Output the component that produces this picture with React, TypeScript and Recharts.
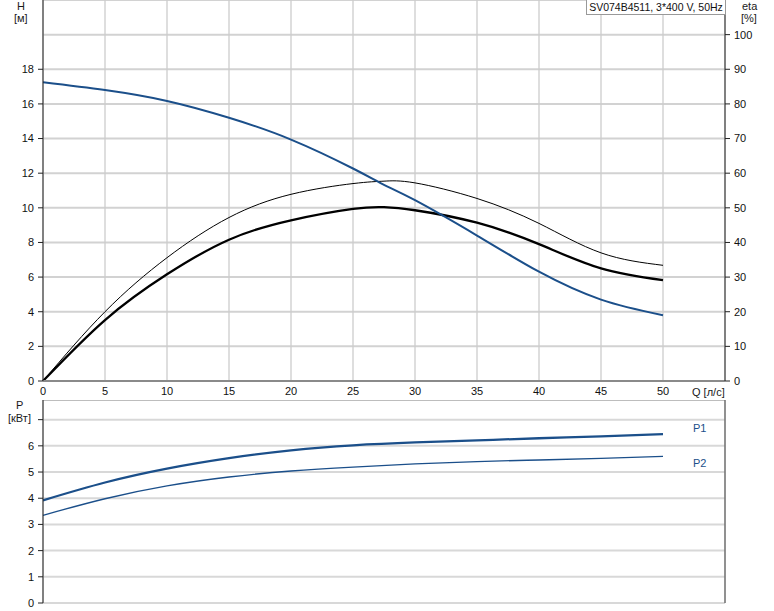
import React from 'react';
import { LineChart, Line, XAxis, YAxis, CartesianGrid, ReferenceLine } from 'recharts';

// Top chart (Q in l/s)
const qTop = [0, 5, 10, 15, 20, 25, 27.5, 30, 35, 40, 45, 50];
const headH = [17.25, 16.8, 16.17, 15.2, 13.94, 12.27, 11.33, 10.44, 8.4, 6.31, 4.7, 3.8];
const etaThin = [0, 20, 35.6, 47.2, 53.9, 57.0, 57.7, 57.2, 52.7, 45.5, 37.0, 33.4];
const etaThick = [0, 17.6, 30.8, 40.8, 46.4, 49.7, 50.2, 49.3, 45.7, 39.5, 32.5, 29.1];

// Bottom chart (power)
const qBottom = [0, 5, 10, 15, 20, 25, 30, 35, 40, 45, 50];
const powerP1 = [3.92, 4.6, 5.13, 5.53, 5.83, 6.02, 6.13, 6.21, 6.29, 6.36, 6.45];
const powerP2 = [3.35, 3.98, 4.47, 4.81, 5.04, 5.19, 5.31, 5.4, 5.46, 5.52, 5.6];

const qTicks = [0, 5, 10, 15, 20, 25, 30, 35, 40, 45, 50, 55];
const hTicks = [0, 2, 4, 6, 8, 10, 12, 14, 16, 18];
const etaTicks = [0, 10, 20, 30, 40, 50, 60, 70, 80, 90, 100];
const pTicks = [0, 1, 2, 3, 4, 5, 6, 7];

const titleText = 'SV074B4511, 3*400 V, 50Hz';

const topData = qTop.map((q, i) => ({ q, h: headH[i], etaThin: etaThin[i], etaThick: etaThick[i] }));
const botData = qBottom.map((q, i) => ({ q, p1: powerP1[i], p2: powerP2[i] }));

const BLUE = '#1b4f8a';
const tickStyle = { fontSize: 11, fill: '#111' };

const txt = (left: number, top: number, s: string, extra: React.CSSProperties = {}) => (
  <div style={{ position: 'absolute', left, top, fontSize: 11, lineHeight: '12px', color: '#1a1a1a', whiteSpace: 'nowrap', ...extra }}>{s}</div>
);

export default function App() {
  return (
    <div style={{ position: 'absolute', left: 0, top: 0, width: 774, height: 611, background: '#fff', fontFamily: '"Liberation Sans", Arial, sans-serif' }}>
      <div style={{ position: 'absolute', left: 0, top: 0 }}>
        <LineChart width={774} height={400} data={topData} margin={{ top: 0, right: 0, bottom: 0, left: 0 }}>
          <CartesianGrid yAxisId="eta" vertical={false} stroke="#d2d2d2" strokeWidth={2} />
          <CartesianGrid yAxisId="eta" horizontal={false} stroke="#cccccc" strokeWidth={1.3} />
          <XAxis dataKey="q" type="number" domain={[0, 55]} ticks={qTicks} interval={0}
            tickFormatter={(v: number) => (v === 55 ? '' : String(v))}
            tickLine={false} axisLine={{ stroke: '#8a8a8a', strokeWidth: 2 }} height={19}
            tickSize={4} tickMargin={2} tick={tickStyle} />
          <YAxis yAxisId="h" domain={[0, 22]} ticks={hTicks} interval={0} width={43}
            axisLine={{ stroke: '#222' }} tickLine={{ stroke: '#222' }} tickSize={5} tickMargin={4} tick={tickStyle} />
          <YAxis yAxisId="eta" orientation="right" domain={[0, 110]} ticks={etaTicks} interval={0} width={49}
            axisLine={{ stroke: '#222' }} tickLine={{ stroke: '#222' }} tickSize={5} tickMargin={4} tick={tickStyle} />
          <Line yAxisId="eta" dataKey="etaThin" type="natural" stroke="#000" strokeWidth={1} dot={false} isAnimationActive={false} />
          <Line yAxisId="eta" dataKey="etaThick" type="natural" stroke="#000" strokeWidth={2.3} dot={false} isAnimationActive={false} />
          <Line yAxisId="h" dataKey="h" type="natural" stroke={BLUE} strokeWidth={2} dot={false} isAnimationActive={false} />
        </LineChart>
      </div>
      <div style={{ position: 'absolute', left: 0, top: 400 }}>
        <LineChart width={774} height={211} data={botData} margin={{ top: 0, right: 0, bottom: 8, left: 0 }}>
          <CartesianGrid vertical={false} stroke="#d8d8d8" strokeWidth={2} />
          <CartesianGrid horizontal={false} stroke="#cccccc" strokeWidth={1.3} />
          <XAxis dataKey="q" type="number" domain={[0, 55]} ticks={qTicks} interval={0} height={0}
            tick={false} tickLine={false} axisLine={{ stroke: '#b0b0b0', strokeWidth: 2 }} />
          <YAxis domain={[0, 7.75]} ticks={pTicks} interval={0} width={43} allowDataOverflow
            tickFormatter={(v: number) => (v === 7 ? '' : String(v))}
            axisLine={{ stroke: '#222' }} tickLine={{ stroke: '#222' }} tickSize={5} tickMargin={4} tick={tickStyle} />
          <YAxis yAxisId="r" orientation="right" domain={[0, 1]} width={49} tick={false} tickLine={false}
            axisLine={{ stroke: '#444' }} />
          <ReferenceLine y={7.75} stroke="#bdbdbd" strokeWidth={2} />
          <Line dataKey="p1" type="natural" stroke={BLUE} strokeWidth={2.3} dot={false} isAnimationActive={false} />
          <Line dataKey="p2" type="natural" stroke={BLUE} strokeWidth={1.3} dot={false} isAnimationActive={false} />
        </LineChart>
      </div>
      {txt(17, 0, 'H')}
      {txt(14, 12, '[м]')}
      {txt(742, 0, 'eta')}
      {txt(741, 12, '[%]')}
      {txt(16, 399, 'P')}
      {txt(8, 412, '[кВт]')}
      {txt(692, 386, 'Q [л/с]')}
      {txt(693, 422, 'P1', { color: BLUE })}
      {txt(693, 457, 'P2', { color: BLUE })}
      <div style={{ position: 'absolute', left: 586, top: 0, width: 138, height: 14, border: '1px solid #999', borderTop: 'none', background: '#fff', fontSize: 10.5, lineHeight: '14px', textAlign: 'center', color: '#111', whiteSpace: 'nowrap' }}>{titleText}</div>
    </div>
  );
}
